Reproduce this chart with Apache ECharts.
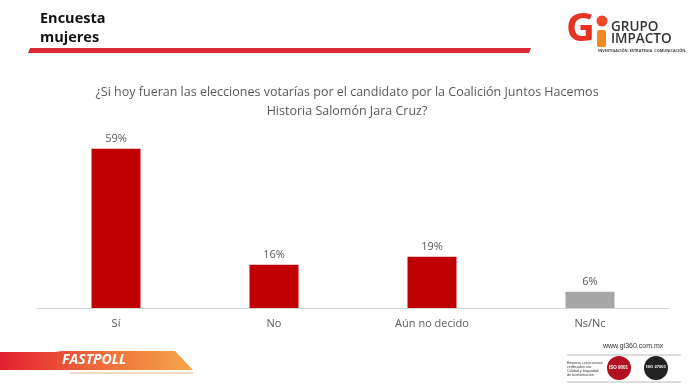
<!DOCTYPE html>
<html><head><meta charset="utf-8">
<script src="https://cdn.jsdelivr.net/npm/echarts@6/dist/echarts.min.js"></script>
<style>html,body{margin:0;padding:0;background:#fff}#c{width:694px;height:392px}</style>
</head><body><div id="c"></div>
<script>
const categories = ['Sí', 'No', 'Aún no decido', 'Ns/Nc'];
const values = [59, 16, 19, 6];
const barColors = ['#C00000', '#C00000', '#C00000', '#A6A6A6'];
const titleText = '¿Si hoy fueran las elecciones votarías por el candidato por la Coalición Juntos Hacemos\nHistoria Salomón Jara Cruz?';

const chart = echarts.init(document.getElementById('c'), null, {renderer: 'canvas'});
const font = '"Open Sans", "Noto Sans", sans-serif';
chart.setOption({
  animation: false,
  backgroundColor: '#fff',
  title: {
    text: titleText, left: 'center', top: 78,
    textStyle: {fontSize: 12.5, fontWeight: 'normal', color: '#595959', fontFamily: font, lineHeight: 19}
  },
  grid: {left: 37, right: 25, top: 146, bottom: 84},
  xAxis: {
    type: 'category', data: categories,
    axisLine: {lineStyle: {color: '#D9D9D9'}},
    axisTick: {show: false},
    axisLabel: {color: '#595959', fontSize: 11, fontFamily: font, margin: 10}
  },
  yAxis: {type: 'value', min: 0, max: 60, show: false, splitLine: {show: false}},
  series: [{
    type: 'bar', barWidth: 49,
    data: values.map((v, i) => ({value: v, itemStyle: {color: barColors[i]}})),
    label: {show: true, position: 'top', formatter: '{c}%', color: '#595959', fontSize: 11, fontFamily: font, distance: 4}
  }],
  graphic: [
    {type: 'text', left: 40, top: 9, style: {text: 'Encuesta\nmujeres', font: 'bold 14.5px "Open Sans", sans-serif', fill: '#111', lineHeight: 19}},
    {type: 'polygon', shape: {points: [[30, 48], [531, 48], [529, 53], [28, 53]]}, style: {fill: '#DC2A36'}},
    // logo
    {type: 'text', left: 566, top: 10, style: {text: 'G', font: 'bold 40px "Open Sans", sans-serif', fill: '#E53225'}},
    {type: 'rect', shape: {x: 597, y: 30, width: 9, height: 17, r: 2}, style: {fill: '#F08A24'}},
    {type: 'circle', shape: {cx: 602, cy: 21, r: 5.5}, style: {fill: '#EE4A2A'}},
    {type: 'text', left: 611, top: 20, style: {text: 'GRUPO\nIMPACTO', font: '600 13.5px "Open Sans", sans-serif', fill: '#333', lineHeight: 12.5}},
    {type: 'text', left: 598, top: 49, style: {text: 'INVESTIGACIÓN. ESTRATEGIA. COMUNICACIÓN.', font: 'bold 3.8px "Open Sans", sans-serif', fill: '#444'}},
    // fastpoll banner
    {type: 'polygon', shape: {points: [[0, 352], [55, 352], [62, 351], [175, 351], [193, 370], [0, 370]]},
      style: {fill: new echarts.graphic.LinearGradient(0, 0, 1, 0, [{offset: 0, color: '#E3202F'}, {offset: 0.5, color: '#EE6A3A'}, {offset: 1, color: '#F5A74A'}])}},
    {type: 'line', shape: {x1: 70, y1: 373, x2: 193, y2: 373}, style: {stroke: '#E8B58A', lineWidth: 1}},
    {type: 'text', left: 62, top: 353, style: {text: 'FASTPOLL', font: 'italic bold 14px "Open Sans", sans-serif', fill: '#fff'}},
    // bottom right
    {type: 'text', left: 603, top: 343, style: {text: 'www.gi360.com.mx', font: '7px "Liberation Sans Narrow", "Liberation Sans", sans-serif', fill: '#333'}},
    {type: 'line', shape: {x1: 567, y1: 355, x2: 681, y2: 355}, style: {stroke: '#bbb', lineWidth: 1}},
    {type: 'line', shape: {x1: 567, y1: 382, x2: 681, y2: 382}, style: {stroke: '#bbb', lineWidth: 1}},
    {type: 'text', left: 567, top: 361, style: {text: 'Empresa con procesos\ncertificados con\nCalidad y Seguridad\nde la información', font: '3.5px sans-serif', fill: '#333', lineHeight: 4}},
    {type: 'circle', shape: {cx: 619, cy: 368, r: 12}, style: {fill: '#B01020'}},
    {type: 'circle', shape: {cx: 656, cy: 368, r: 12}, style: {fill: '#222'}},
    {type: 'text', left: 609, top: 365, style: {text: 'ISO 9001', font: 'bold 4.5px sans-serif', fill: '#fff'}},
    {type: 'text', left: 646, top: 365, style: {text: 'ISO 27001', font: 'bold 4.2px sans-serif', fill: '#fff'}}
  ]
});
</script></body></html>
